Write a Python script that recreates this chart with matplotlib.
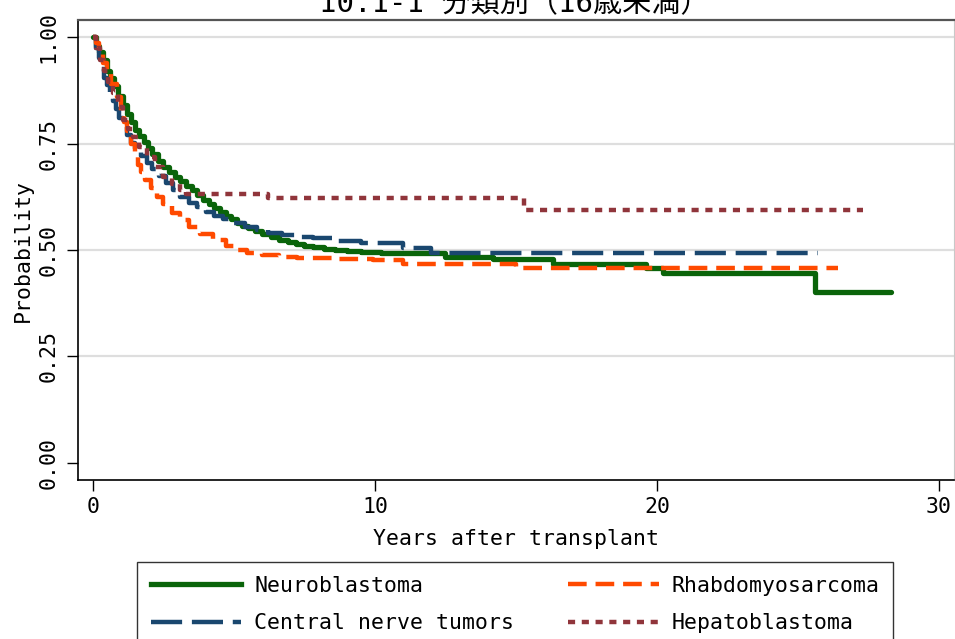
import matplotlib.pyplot as plt
from matplotlib.lines import Line2D

# Kaplan-Meier estimates (years, survival probability)
neuro_t = [0, 0.1, 0.2, 0.35, 0.5, 0.6, 0.75, 0.9, 1.05, 1.2, 1.35, 1.5, 1.65, 1.8,
           1.95, 2.1, 2.3, 2.5, 2.7, 2.9, 3.1, 3.3, 3.5, 3.7, 3.9, 4.1, 4.3, 4.5,
           4.7, 4.9, 5.1, 5.3, 5.5, 5.75, 6.0, 6.3, 6.6, 6.9, 7.2, 7.5, 7.8, 8.2,
           8.6, 9.0, 9.5, 10.2, 12.5, 14.2, 16.3, 19.6, 20.2, 25.6, 28.3]
neuro_s = [1.0, 0.98, 0.965, 0.945, 0.92, 0.905, 0.885, 0.862, 0.84, 0.82, 0.80,
           0.782, 0.768, 0.753, 0.739, 0.726, 0.71, 0.695, 0.683, 0.672, 0.662,
           0.651, 0.64, 0.628, 0.617, 0.607, 0.598, 0.589, 0.58, 0.572, 0.564,
           0.557, 0.551, 0.544, 0.537, 0.53, 0.524, 0.518, 0.514, 0.51, 0.507,
           0.503, 0.50, 0.497, 0.495, 0.493, 0.484, 0.479, 0.468, 0.458, 0.446,
           0.402, 0.402]

cns_t = [0, 0.1, 0.2, 0.3, 0.4, 0.5, 0.6, 0.7, 0.8, 0.93, 1.06, 1.2, 1.35, 1.5,
         1.7, 1.9, 2.1, 2.35, 2.6, 2.85, 3.1, 3.4, 3.7, 4.0, 4.3, 4.6, 5.0, 5.4,
         5.8, 6.2, 6.7, 7.3, 7.8, 8.5, 9.5, 11.0, 12.0, 25.7]
cns_s = [1.0, 0.975, 0.95, 0.925, 0.905, 0.887, 0.869, 0.85, 0.832, 0.81, 0.789,
         0.77, 0.752, 0.737, 0.72, 0.704, 0.69, 0.673, 0.657, 0.64, 0.625, 0.611,
         0.60, 0.59, 0.58, 0.572, 0.563, 0.554, 0.546, 0.54, 0.535, 0.53, 0.528,
         0.522, 0.517, 0.505, 0.493, 0.493]

rhabdo_t = [0, 0.1, 0.2, 0.35, 0.5, 0.65, 0.85, 1.0, 1.1, 1.2, 1.35, 1.5, 1.6,
            1.7, 1.85, 2.05, 2.27, 2.5, 2.8, 3.09, 3.4, 3.8, 4.26, 4.7, 5.1, 5.46,
            6.0, 6.6, 7.23, 8.5, 9.93, 11.0, 15.0, 26.4]
rhabdo_s = [1.0, 0.985, 0.965, 0.939, 0.915, 0.89, 0.859, 0.825, 0.80, 0.78, 0.748,
            0.718, 0.70, 0.684, 0.665, 0.645, 0.625, 0.608, 0.588, 0.57, 0.555,
            0.538, 0.523, 0.51, 0.50, 0.493, 0.488, 0.484, 0.481, 0.479, 0.477,
            0.466, 0.458, 0.458]

hepato_t = [0, 0.1, 0.25, 0.4, 0.55, 0.71, 0.88, 1.06, 1.25, 1.42, 1.65, 1.91, 2.2,
            2.48, 2.8, 3.09, 3.3, 6.2, 15.3, 27.3]
hepato_s = [1.0, 0.975, 0.946, 0.92, 0.895, 0.869, 0.835, 0.805, 0.785, 0.765,
            0.742, 0.718, 0.694, 0.671, 0.655, 0.641, 0.632, 0.622, 0.594, 0.594]

labels = ["Neuroblastoma", "Central nerve tumors", "Rhabdomyosarcoma", "Hepatoblastoma"]
colors = ["#0a640a", "#1a476f", "#ff4a00", "#90353b"]

x_ticks = [0, 10, 20, 30]
y_ticks = [0.00, 0.25, 0.50, 0.75, 1.00]
y_tick_labels = ["0.00", "0.25", "0.50", "0.75", "1.00"]

mono = "DejaVu Sans Mono"
plt.rcParams["font.family"] = [mono, "Noto Sans CJK JP"]

fig = plt.figure(figsize=(9.55, 6.39), dpi=100)
ax = fig.add_axes([78 / 955, 1 - 480 / 639, 876 / 955, 460 / 639])

for y in y_ticks[1:]:
    ax.axhline(y, color="#dedede", lw=1.6, zorder=0)

styles = [
    dict(lw=3.8, ls="-"),
    dict(lw=3.2, ls=(0, (7.0, 2.2))),
    dict(lw=3.2, ls=(0, (4.2, 2.0))),
    dict(lw=3.2, ls=(0, (1.6, 1.5))),
]
series = [(neuro_t, neuro_s), (cns_t, cns_s), (rhabdo_t, rhabdo_s), (hepato_t, hepato_s)]
for i, (t, s) in enumerate(series):
    ax.plot(t, s, drawstyle="steps-post", color=colors[i], zorder=2 + i,
            solid_capstyle="round", solid_joinstyle="round", **styles[i])

ax.set_xlim(-0.53, 30.53)
ax.set_ylim(-0.04, 1.04)
ax.set_xticks(x_ticks)
ax.set_yticks(y_ticks)
ax.set_yticklabels(y_tick_labels, rotation=90, va="center")
ax.tick_params(axis="both", labelsize=15.5, length=8, width=1, color="black", pad=4)
ax.tick_params(axis="y", pad=6)

for side in ["left", "bottom"]:
    ax.spines[side].set_color("black")
    ax.spines[side].set_linewidth(1.2)
ax.spines["top"].set_color("#555555")
ax.spines["top"].set_linewidth(1.6)
ax.spines["right"].set_color("#c8c8c8")

ax.set_xlabel("Years after transplant", fontsize=15.5, labelpad=9)
ax.set_ylabel("Probability", fontsize=15.5, labelpad=4)

fig.text(0.539, 1 - 12 / 639, "10.1-1 分類別（16歳未満）", fontsize=21,
         ha="center", va="baseline")

handles = [Line2D([], [], color=colors[i], **styles[i]) for i in range(4)]
leg = fig.legend(handles, labels, ncol=2, loc="upper left",
                 bbox_to_anchor=(137 / 955, 1 - 562 / 639),
                 frameon=True, fancybox=False, edgecolor="black", fontsize=15.5,
                 handlelength=4.2, handletextpad=0.6, columnspacing=2.5,
                 labelspacing=0.8, borderpad=0.65, borderaxespad=0)
leg.get_frame().set_linewidth(1.0)

fig.savefig("out.png", dpi=100)
